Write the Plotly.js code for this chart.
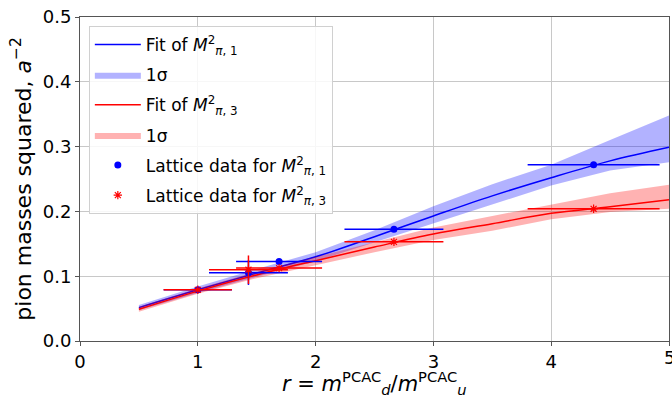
<!DOCTYPE html>
<html>
<head>
<meta charset="utf-8">
<script src="https://cdn.plot.ly/plotly-3.0.1.min.js"></script>
<style>html,body{margin:0;padding:0;background:#fff;}#chart{width:672px;height:398px;}</style>
</head>
<body>
<div id="chart"></div>
<script>
// Fit curves
const fitX = [0.5, 1.0, 1.5, 2.0, 2.5, 3.0, 3.5, 4.0, 4.5, 5.0];
const fit1 = [0.0515, 0.079, 0.105, 0.130, 0.161, 0.193, 0.224, 0.252, 0.278, 0.299];
const fit1Upper = [0.0555, 0.084, 0.111, 0.137, 0.171, 0.208, 0.242, 0.272, 0.310, 0.348];
const fit1Lower = [0.0475, 0.074, 0.099, 0.123, 0.152, 0.181, 0.211, 0.240, 0.263, 0.276];
const fit3 = [0.049, 0.077, 0.102, 0.124, 0.145, 0.165, 0.181, 0.197, 0.207, 0.218];
const fit3Upper = [0.053, 0.081, 0.107, 0.130, 0.153, 0.175, 0.193, 0.211, 0.228, 0.241];
const fit3Lower = [0.045, 0.073, 0.097, 0.117, 0.137, 0.156, 0.170, 0.188, 0.199, 0.204];

// Lattice data
const latX = [1.0, 1.43, 1.69, 2.665, 4.36];
const latXerr = [0.29, 0.335, 0.365, 0.42, 0.56];
const lat1 = [0.079, 0.1055, 0.1225, 0.1725, 0.272];
const lat1Yerr = [0.002, 0.019, 0.003, 0.003, 0.003];
const lat3 = [0.079, 0.110, 0.1125, 0.153, 0.204];
const lat3Yerr = [0.002, 0.022, 0.003, 0.003, 0.003];

const xTicks = [0, 1, 2, 3, 4, 5];
const yTicks = [0.0, 0.1, 0.2, 0.3, 0.4, 0.5];
const xTitle = '<i>r</i> = <i>m</i><sup>PCAC</sup><sub><i>d</i></sub>/<i>m</i><sup>PCAC</sup><sub><i>u</i></sub>';
const yTitle = 'pion masses squared, <i>a</i><sup>−2</sup>';

const blue = '#0000ff', red = '#ff0000';
const band = (up, lo) => ({x: fitX.concat(fitX.slice().reverse()), y: up.concat(lo.slice().reverse())});
const b1 = band(fit1Upper, fit1Lower), b3 = band(fit3Upper, fit3Lower);

const traces = [
  {x: fitX, y: fit1, mode: 'lines', legendgroup: 'a', line: {color: blue, width: 1.5, shape: 'spline'}, name: 'Fit of <i>M</i><sup>2</sup><sub><i>π</i>, 1</sub>'},
  {x: b1.x, y: b1.y, mode: 'lines', legendgroup: 'b', fill: 'toself', fillcolor: 'rgba(0,0,255,0.3)', line: {width: 0, color: 'rgba(0,0,255,0.3)'}, name: '1σ'},
  {x: fitX, y: fit3, mode: 'lines', legendgroup: 'c', line: {color: red, width: 1.5, shape: 'spline'}, name: 'Fit of <i>M</i><sup>2</sup><sub><i>π</i>, 3</sub>'},
  {x: b3.x, y: b3.y, mode: 'lines', legendgroup: 'd', fill: 'toself', fillcolor: 'rgba(255,0,0,0.3)', line: {width: 0, color: 'rgba(255,0,0,0.3)'}, name: '1σ'},
  {x: latX, y: lat1, mode: 'markers', legendgroup: 'e', marker: {color: blue, size: 7, symbol: 'circle'},
   error_x: {type: 'data', array: latXerr, color: blue, thickness: 1.5, width: 0},
   error_y: {type: 'data', array: lat1Yerr, color: blue, thickness: 1.5, width: 0},
   name: 'Lattice data for <i>M</i><sup>2</sup><sub><i>π</i>, 1</sub>'},
  {x: latX, y: lat3, mode: 'markers', legendgroup: 'f', marker: {color: red, size: 7, symbol: 'asterisk-open', line: {color: red, width: 1.2}},
   error_x: {type: 'data', array: latXerr, color: red, thickness: 1.5, width: 0},
   error_y: {type: 'data', array: lat3Yerr, color: red, thickness: 1.5, width: 0},
   name: 'Lattice data for <i>M</i><sup>2</sup><sub><i>π</i>, 3</sub>'}
];

const layout = {
  width: 672, height: 398,
  margin: {l: 80, r: 3, t: 17, b: 57},
  paper_bgcolor: '#fff', plot_bgcolor: '#fff',
  font: {family: 'DejaVu Sans', size: 16, color: '#000'},
  showlegend: true,
  legend: {x: 0.015, y: 0.972, xanchor: 'left', yanchor: 'top', bgcolor: 'rgba(255,255,255,0.85)',
    bordercolor: '#d0d0d0', borderwidth: 1, font: {family: 'DejaVu Sans', size: 17}, traceorder: 'grouped',
    tracegroupgap: 5, itemwidth: 46},
  xaxis: {range: [0, 5], tickvals: xTicks, ticktext: xTicks.map(String), showgrid: true, gridcolor: '#c8c8c8', gridwidth: 1,
    showline: true, linecolor: '#555', linewidth: 1, mirror: true, ticks: 'outside', ticklen: 4, tickcolor: '#555',
    zeroline: false, tickfont: {size: 18}},
  yaxis: {range: [0, 0.5], tickvals: yTicks, ticktext: yTicks.map(v => v.toFixed(1)), showgrid: true, gridcolor: '#c8c8c8', gridwidth: 1,
    showline: true, linecolor: '#555', linewidth: 1, mirror: true, ticks: 'outside', ticklen: 4, tickcolor: '#555',
    zeroline: false, tickfont: {size: 18},
    title: {text: yTitle, font: {size: 22}, standoff: 5}},
  annotations: [
    {x: 5, xref: 'x', y: 0, yref: 'paper', yanchor: 'top', xanchor: 'center', yshift: -4,
     text: String(xTicks[5]), showarrow: false, font: {size: 18, family: 'DejaVu Sans', color: '#000'}},
    {x: 0.5, xref: 'paper', y: 0, yref: 'paper', yanchor: 'top', xanchor: 'center', yshift: -25,
     text: xTitle, showarrow: false, font: {size: 21, family: 'DejaVu Sans', color: '#000'}}
  ]
};

Plotly.newPlot('chart', traces, layout, {displayModeBar: false, staticPlot: true});
</script>
</body>
</html>
